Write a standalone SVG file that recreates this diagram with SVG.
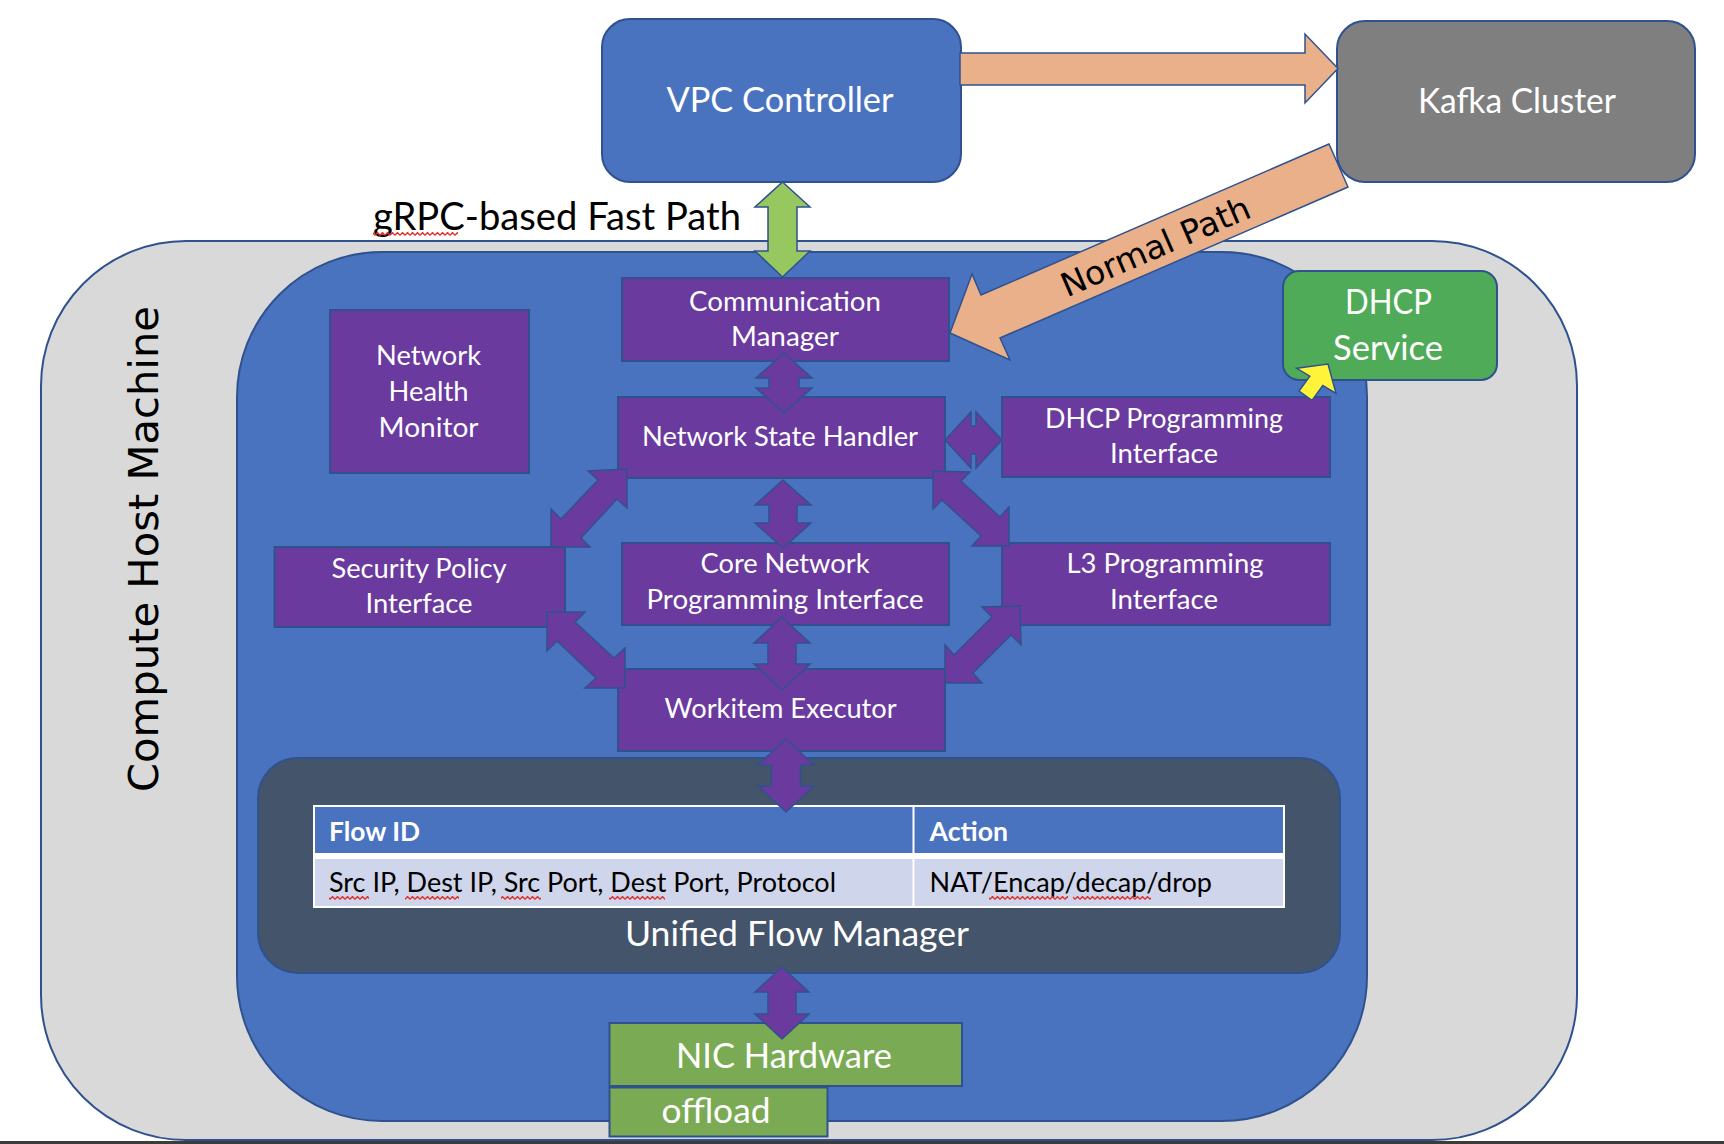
<svg xmlns="http://www.w3.org/2000/svg" width="1724" height="1144" viewBox="0 0 1724 1144">
<style>
.pbox{fill:#6A3A9E;stroke:#2F528F;stroke-width:2}
.wt{font-family:Lato,"Open Sans",sans-serif;fill:#ffffff;text-anchor:middle}
.s26{font-size:26.4px}
.s34{font-size:34px}
.parr{fill:#6A3A9E;stroke:#2F528F;stroke-width:1.5;stroke-linejoin:miter}
.oarr{fill:#EAB08A;stroke:#2F528F;stroke-width:1.5;stroke-linejoin:miter}
.cell{font-family:Lato,"Open Sans",sans-serif;font-size:26.4px}
.dj{font-family:"DejaVu Sans",Verdana,sans-serif;fill:#000000;text-anchor:middle}
</style>
<defs>
<pattern id="squig" patternUnits="userSpaceOnUse" x="0" y="0" width="5" height="4">
<path d="M0,3.4 L2.5,0.6 L5,3.4" fill="none" stroke="#E0302A" stroke-width="1.4"/>
</pattern>
</defs>
<rect x="0" y="0" width="1724" height="1144" fill="#ffffff"/>

<g id="compute-host-machine">
<rect x="41" y="241" width="1536" height="899" rx="145" ry="145" fill="#D9D9D9" stroke="#2F528F" stroke-width="2"/>
<text class="dj" font-size="41.7" transform="translate(158,549) rotate(-90)" x="0" y="0">Compute Host Machine</text>
</g>
<rect x="0" y="1141" width="1724" height="3" fill="#3C3C3C"/>

<g id="host-agent">
<rect x="237" y="252" width="1130" height="869" rx="145" ry="145" fill="#4A73BF" stroke="#2F528F" stroke-width="2"/>
</g>

<g id="unified-flow-manager">
<rect x="258" y="758" width="1082" height="215" rx="40" ry="40" fill="#44546A" stroke="#2F528F" stroke-width="2"/>
<rect x="313" y="805" width="972" height="103" fill="#ffffff"/>
<rect x="315" y="807" width="597.5" height="46" fill="#4A73BF"/>
<rect x="914.5" y="807" width="368.5" height="46" fill="#4A73BF"/>
<rect x="315" y="859" width="597.5" height="47" fill="#CFD5EA"/>
<rect x="914.5" y="859" width="368.5" height="47" fill="#CFD5EA"/>
<text class="cell" x="329" y="841" fill="#ffffff" font-weight="bold" textLength="91" lengthAdjust="spacingAndGlyphs">Flow ID</text>
<text class="cell" x="929.5" y="841" fill="#ffffff" font-weight="bold" textLength="78.5" lengthAdjust="spacingAndGlyphs">Action</text>
<text class="cell" x="329" y="892" fill="#000000" textLength="507" lengthAdjust="spacingAndGlyphs">Src IP, Dest IP, Src Port, Dest Port, Protocol</text>
<text class="cell" x="929.5" y="892" fill="#000000" textLength="282.5" lengthAdjust="spacingAndGlyphs">NAT/Encap/decap/drop</text>
<rect x="329" y="896" width="40" height="4" fill="url(#squig)"/>
<rect x="405" y="896" width="54" height="4" fill="url(#squig)"/>
<rect x="501" y="896" width="40" height="4" fill="url(#squig)"/>
<rect x="609" y="896" width="56" height="4" fill="url(#squig)"/>
<rect x="989" y="896" width="79" height="4" fill="url(#squig)"/>
<rect x="1073" y="896" width="78" height="4" fill="url(#squig)"/>
<text class="wt s34" x="797" y="946" textLength="344" lengthAdjust="spacingAndGlyphs">Unified Flow Manager</text>
</g>

<g id="vpc-controller">
<rect x="602" y="19" width="359" height="163" rx="28" ry="28" fill="#4A73BF" stroke="#2F528F" stroke-width="2"/>
<text class="wt s34" x="780" y="112" textLength="227" lengthAdjust="spacingAndGlyphs">VPC Controller</text>
</g>

<g id="kafka-cluster">
<rect x="1337" y="21" width="358" height="161" rx="28" ry="28" fill="#7F7F7F" stroke="#2F528F" stroke-width="2"/>
<text class="wt s34" x="1517" y="113" textLength="198" lengthAdjust="spacingAndGlyphs">Kafka Cluster</text>
</g>

<g id="dhcp-service">
<rect x="1283" y="271" width="214" height="109" rx="16" ry="16" fill="#50AB59" stroke="#2F528F" stroke-width="2"/>
<text class="wt s34" x="1388.5" y="314" textLength="87" lengthAdjust="spacingAndGlyphs">DHCP</text>
<text class="wt s34" x="1388" y="359.5" textLength="110" lengthAdjust="spacingAndGlyphs">Service</text>
</g>

<g id="communication-manager">
<rect class="pbox" x="622" y="278" width="327" height="83"/>
<text class="wt s26" x="785" y="311" textLength="192" lengthAdjust="spacingAndGlyphs">Communication</text>
<text class="wt s26" x="785" y="346" textLength="108" lengthAdjust="spacingAndGlyphs">Manager</text>
</g>

<g id="network-health-monitor">
<rect class="pbox" x="330" y="310" width="199" height="163"/>
<text class="wt s26" x="428.6" y="365" textLength="105" lengthAdjust="spacingAndGlyphs">Network</text>
<text class="wt s26" x="428.6" y="401" textLength="80" lengthAdjust="spacingAndGlyphs">Health</text>
<text class="wt s26" x="428.6" y="437" textLength="100" lengthAdjust="spacingAndGlyphs">Monitor</text>
</g>

<g id="network-state-handler">
<rect class="pbox" x="618" y="397" width="327" height="81"/>
<text class="wt s26" x="780" y="446" textLength="276" lengthAdjust="spacingAndGlyphs">Network State Handler</text>
</g>

<g id="dhcp-programming-interface">
<rect class="pbox" x="1002" y="397" width="328" height="80"/>
<text class="wt s26" x="1164" y="428" textLength="238" lengthAdjust="spacingAndGlyphs">DHCP Programming</text>
<text class="wt s26" x="1164" y="463" textLength="108" lengthAdjust="spacingAndGlyphs">Interface</text>
</g>

<g id="security-policy-interface">
<rect class="pbox" x="274.5" y="547" width="290.5" height="80"/>
<text class="wt s26" x="419" y="578" textLength="175" lengthAdjust="spacingAndGlyphs">Security Policy</text>
<text class="wt s26" x="419" y="613" textLength="107" lengthAdjust="spacingAndGlyphs">Interface</text>
</g>

<g id="core-network-programming-interface">
<rect class="pbox" x="622" y="543" width="327" height="82"/>
<text class="wt s26" x="785" y="573" textLength="169" lengthAdjust="spacingAndGlyphs">Core Network</text>
<text class="wt s26" x="785" y="609" textLength="277" lengthAdjust="spacingAndGlyphs">Programming Interface</text>
</g>

<g id="l3-programming-interface">
<rect class="pbox" x="1002" y="543" width="328" height="82"/>
<text class="wt s26" x="1165" y="573" textLength="197" lengthAdjust="spacingAndGlyphs">L3 Programming</text>
<text class="wt s26" x="1164" y="609" textLength="108" lengthAdjust="spacingAndGlyphs">Interface</text>
</g>

<g id="workitem-executor">
<rect class="pbox" x="618" y="669" width="327" height="82"/>
<text class="wt s26" x="780.6" y="718" textLength="232" lengthAdjust="spacingAndGlyphs">Workitem Executor</text>
</g>

<g id="nic-hardware">
<rect x="609.5" y="1023" width="352.5" height="63" fill="#7AAB54" stroke="#2F528F" stroke-width="2"/>
<text class="wt s34" x="784" y="1068" textLength="216" lengthAdjust="spacingAndGlyphs">NIC Hardware</text>
</g>

<g id="offload">
<rect x="609.5" y="1087.5" width="218" height="49" fill="#7AAB54" stroke="#2F528F" stroke-width="2"/>
<text class="wt s34" x="716" y="1123" textLength="109" lengthAdjust="spacingAndGlyphs">offload</text>
</g>

<g id="connectors">
<polygon class="oarr" points="960,53 1305,53 1305,34 1338,68.5 1305,103 1305,85 960,85"/>
<polygon class="oarr" points="1329,144 981,295 972,274 950,333 1010,360 1000,338 1348,187"/>
<text class="dj" font-size="32.8" transform="translate(1160,257) rotate(-23.46)" x="0" y="0" textLength="203" lengthAdjust="spacingAndGlyphs">Normal Path</text>
<polygon points="782.5,182 810,207 797,207 797,251 810,251 782.5,277 755,251 768,251 768,207 755,207" fill="#97C75F" stroke="#2F528F" stroke-width="1.5"/>
<text x="373" y="230" font-family="Lato,'Open Sans',sans-serif" font-size="38.4" fill="#000000" textLength="368" lengthAdjust="spacingAndGlyphs">gRPC-based Fast Path</text>
<rect x="373" y="232" width="85" height="4" fill="url(#squig)"/>
<polygon points="1328,364 1336,393.3 1322.8,385.5 1312,400.4 1299,391 1309.8,376.1 1296.7,368.3" fill="#FFF43A" stroke="#2F528F" stroke-width="1.5"/>
<polygon class="parr" points="784,353 812,378 799,378 799,388 812,388 784,413 756,388 769,388 769,378 756,378"/>
<polygon class="parr" points="783,480 811,505 797,505 797,523 811,523 783,548 755,523 769,523 769,505 755,505"/>
<polygon class="parr" points="782,617 810,643 796,643 796,664 810,664 782,690 754,664 768,664 768,643 754,643"/>
<polygon class="parr" points="786,739 814,765 800.5,765 800.5,786 814,786 786,812 758,786 771.5,786 771.5,765 758,765"/>
<polygon class="parr" points="782,967 809,992 796,992 796,1014 809,1014 782,1039 755,1014 768,1014 768,992 755,992"/>
<polygon class="parr" points="945,440 971,412 971,426 976,426 976,412 1002,440 976,468 976,454 971,454 971,468"/>
<polygon class="parr" points="627,469 588,471 598,480 561,519 551,509 551,547 590,547 581,538 617,499 627,508"/>
<polygon class="parr" points="933,471 970,472 961,481 1000,517 1009,507 1009,546 972,546 981,536 942,500 933,509"/>
<polygon class="parr" points="547,612 585,612 575,622 614,658 625,648 625,688 585,688 596,678 557,641 547,651"/>
<polygon class="parr" points="1020,606 982,607 992,617 954,655 945,645 945,683 982,683 973,673 1011,635 1021,645"/>
</g>
</svg>
